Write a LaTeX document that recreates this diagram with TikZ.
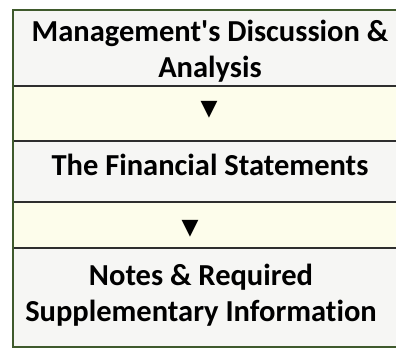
\documentclass[tikz,border=0pt]{standalone}
\usepackage{fontspec}
\setmainfont{Carlito}[Ligatures=NoCommon]
\newfontfamily\symbolfont{DejaVu Sans}
\definecolor{rowgray}{HTML}{F6F6F4}
\definecolor{rowcream}{HTML}{FDFDEB}
\definecolor{rulegray}{HTML}{2E2E2E}
\definecolor{framegreen}{HTML}{3F5A2C}
\begin{document}
\begin{tikzpicture}[x=1pt,y=-1pt,
  label/.style={font=\bfseries\fontsize{30.5}{36}\selectfont, align=center, inner sep=0pt, text=black},
  pointer/.style={font=\symbolfont\fontsize{22}{22}\selectfont, inner sep=0pt, text=black},
  sep/.style={draw=rulegray, line width=1.3pt},
  frame/.style={draw=framegreen, line width=1.4pt}]
  % page
  \fill[white] (0,0) rectangle (396,353);
  \useasboundingbox (0,0) rectangle (396,353);
  % row fills
  \fill[rowgray]  (13,10)  rectangle (396,86);
  \fill[rowcream] (13,86)  rectangle (396,141);
  \fill[rowgray]  (13,141) rectangle (396,202);
  \fill[rowcream] (13,202) rectangle (396,248);
  \fill[rowgray]  (13,248) rectangle (396,347);
  % row separators
  \draw[sep] (13,86) -- (396,86);
  \draw[sep] (13,141) -- (396,141);
  \draw[sep] (13,202) -- (396,202);
  \draw[sep] (13,248) -- (396,248);
  % outer frame (open on the right)
  \draw[frame] (396,10) -- (13,10) -- (13,347) -- (396,347);
  % texts
  \node[label] (mda) at (210,51) {Management\textquotesingle s Discussion \&\\Analysis};
  \node[pointer] (p1) at (209,110) {▼};
  \node[label] (fs) at (210,165) {The Financial Statements};
  \node[pointer] (p2) at (190,229) {▼};
  \node[label] (notes) at (201,295) {Notes \& Required\\Supplementary Information};
\end{tikzpicture}
\end{document}
